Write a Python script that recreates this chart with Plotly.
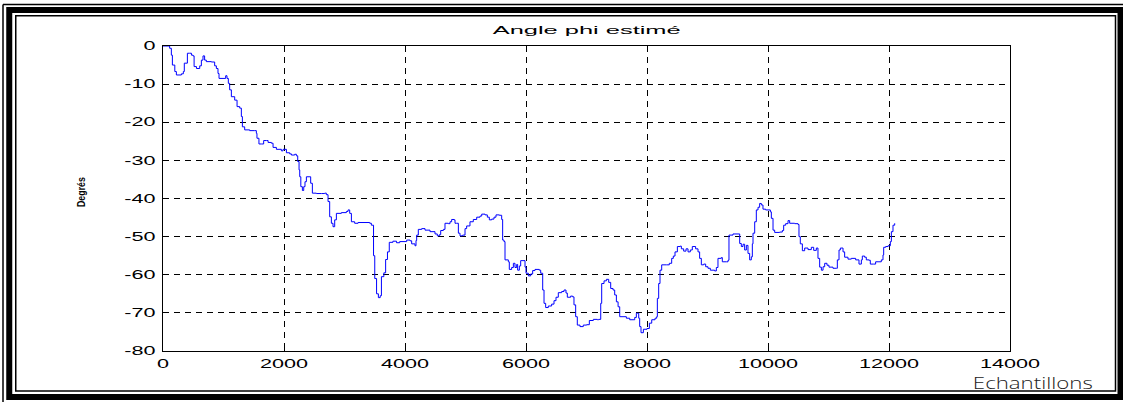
import plotly.graph_objects as go

# Estimated phi angle (degrees) versus sample index
samples = [
    0, 83, 110, 138, 155, 195, 221, 304, 336, 352, 380, 403, 440, 470, 497, 514, 553, 607, 634, 661,
    688, 716, 799, 854, 882, 909, 926, 992, 1036, 1058, 1080, 1102, 1130, 1185, 1224, 1268, 1295, 1312,
    1350, 1433, 1516, 1543, 1553, 1586, 1625, 1664, 1709, 1737, 1792, 1819, 1874, 1957, 1985, 2040,
    2094, 2122, 2149, 2177, 2205, 2227, 2249, 2260, 2278, 2304, 2326, 2347, 2370, 2414, 2441, 2469,
    2535, 2618, 2673, 2700, 2728, 2755, 2783, 2810, 2838, 2866, 2948, 3031, 3058, 3086, 3114, 3168,
    3224, 3306, 3417,
    3444, 3480, 3500, 3530, 3560, 3590, 3610, 3650, 3680, 3710, 3740, 3800, 3860, 3912,
    4028, 4083, 4110, 4165, 4182, 4193, 4220, 4276, 4331, 4413, 4496, 4534, 4567, 4590, 4634, 4661,
    4716, 4744, 4771, 4810, 4827, 4854, 4882, 4909, 4953, 4992, 5019, 5074, 5129, 5185, 5240, 5268,
    5323, 5361, 5394, 5433, 5471, 5504, 5559, 5598, 5614, 5636, 5653, 5708, 5724, 5763, 5791, 5818,
    5846, 5862, 5890, 5912, 5967, 5984, 6000, 6039, 6077, 6110, 6149, 6220, 6243, 6276, 6298, 6325,
    6369, 6424, 6463, 6496, 6534, 6590, 6628, 6661, 6683, 6738, 6771, 6793, 6821, 6848, 6892, 6947,
    7003, 7047, 7113, 7179, 7201, 7235, 7251, 7290, 7329, 7367, 7400, 7439, 7466, 7494, 7522, 7549,
    7604, 7659, 7714, 7769, 7797, 7824, 7846, 7863, 7879, 7901, 7940, 8000, 8039, 8078, 8133, 8160,
    8171, 8193, 8215, 8243, 8325, 8369, 8408, 8435, 8463, 8502, 8546, 8568, 8606, 8645, 8678, 8716,
    8749, 8804, 8843, 8870, 8898, 8937, 8970, 9008, 9047, 9118, 9146, 9173, 9228, 9245, 9311, 9339,
    9355, 9421, 9504, 9532, 9559, 9587, 9614, 9642, 9669, 9697, 9724, 9741, 9752, 9780, 9807, 9835,
    9862, 9890, 9917, 9961, 10017, 10039, 10055, 10083, 10110, 10193, 10237, 10259, 10292, 10331,
    10358, 10441, 10496, 10512, 10534, 10568, 10606, 10661, 10716, 10755, 10799, 10826, 10854, 10882,
    10910, 10937, 10975, 11008, 11074, 11130, 11146, 11174, 11196, 11240, 11267, 11322, 11377, 11449,
    11504, 11543, 11559, 11597, 11625, 11669, 11691, 11746, 11779, 11834, 11873, 11901, 11912, 11945,
    11984, 12022, 12039, 12066, 12094,
]
phi_deg = [
    0, 0, -0.6, -2.4, -5, -6.7, -7.6, -7.3, -6.7, -4.5, -4.5, -1.9, -1.9, -2.4, -2.6, -5.4, -5.9, -5.2, -3.7, -2.6,
    -3.7, -4.1, -4.2, -5.2, -5.9, -7.2, -8.5, -8.5, -7.8, -8.5, -9.8, -11.5, -13.3, -14.2, -15.9, -16.3, -18.5, -21.2,
    -22, -22.2, -22.2, -22.9, -24.2, -25.7, -25.7, -24.8, -24.8, -25.3, -25.5, -26.6, -27.1, -27.5, -27.1, -28,
    -28.3, -28.6, -28.6, -28.4, -28.8, -30.3, -32.5, -34.3, -36.9, -37.9, -36.9, -35.6, -34.3, -34.3, -36, -38.6,
    -38.7, -38.7, -38.6, -39, -40.8, -44.8, -46.5, -47.4, -45.6, -43.9, -43.7, -43.4, -43, -43.9, -46.1, -46.5,
    -46.3, -46.3, -46.5,
    -47, -55, -61, -65, -66, -65.5, -60.5, -59.5, -56, -54, -51.5, -51.2, -51.6, -51.3,
    -50.9, -51.1, -51.9, -52.4, -51, -49.6, -48.1, -47.9, -48.3, -48.7, -49.3, -49.8, -49.5, -48.4, -48.1, -46.5,
    -46.6, -46.1, -45.5, -45.6, -46.5, -46.5, -49.1, -49.8, -49.6, -47.9, -47.2, -46.1, -45.5, -44.9, -44.6, -44.1,
    -44.3, -44.9, -45.6, -45.4, -44.9, -44.3, -44.4, -45.5, -50.9, -51.3, -56.1, -56.6, -58.6, -58.1, -57, -58.1,
    -57.3, -58.8, -57.7, -56.3, -56.3, -58, -59.6, -60.3, -59.8, -58.9, -58.6, -58.8, -59.6, -64, -67.5, -68.6,
    -68.2, -67.7, -66.8, -65.9, -64.7, -64.4, -64, -64.8, -65.9, -65.6, -65.8, -67.9, -71, -73.2, -73.6, -73.2,
    -73.1, -72, -71.7, -71.8, -71.7, -67.5, -62.3, -61.6, -61.2, -62, -63.6, -64, -65.3, -67.1, -68.4, -71,
    -71, -71.4, -71.8, -71.8, -71.2, -70.1, -70.1, -71.4, -73.6, -75.2, -74.3, -74.1, -72.7, -71.8, -71.4, -71,
    -66.2, -62.3, -58.8, -57.4, -57.4, -57, -55.7, -55.1, -54, -52.6, -52.5, -53.2, -53.8, -53.2, -54, -53.5,
    -52.6, -53.2, -54, -55.7, -57.4, -57.2, -57.9, -58.3, -58.8, -59, -58.1, -55.7, -55.5, -56.6, -56.6, -56.2,
    -49.6, -49.3, -49.3, -51.8, -52.6, -52, -53.5, -52.3, -54.4, -56.1, -55.3, -51.9, -49.1, -46.1, -43, -42.3,
    -41.3, -41.7, -42.8, -43, -43, -43.5, -45.2, -48.3, -48.9, -48.8, -48.4, -47, -46.6, -45.8,
    -46.5, -46.6, -46.8, -50, -51.9, -53.7, -53, -53.4, -52.8, -53.6, -53, -55.7, -58, -58.8,
    -57.9, -57, -57.5, -58, -58.3, -58.3, -56.1, -53.5, -53, -54, -55.4, -55.9, -55.7, -56.1,
    -57.2, -56.1, -55.1, -55.4, -56.1, -56.2, -57.2, -57.2, -56.6, -56.6, -56.1, -54.8, -52.8, -52.6,
    -52.4, -51.3, -48.7, -47, -46.5,
]

x_ticks = [0, 2000, 4000, 6000, 8000, 10000, 12000, 14000]
y_ticks = [0, -10, -20, -30, -40, -50, -60, -70, -80]

title_text = "Angle phi estimé"
x_title = "Echantillons"
y_title = "Degrés"

W, H = 1123, 402
L, R, T, B = 163, 113, 46, 51
PW, PH = W - L - R, H - T - B


def px_x(px):
    return (px - L) / PW


def px_y(py):
    return (H - B - py) / PH


fig = go.Figure()
fig.add_trace(go.Scatter(
    x=samples, y=phi_deg, mode="lines",
    line=dict(color="#0000ff", width=1, shape="hv"),
    hoverinfo="skip", showlegend=False,
))

axis_common = dict(
    showline=True, linecolor="black", linewidth=1, mirror=True,
    showgrid=True, gridcolor="black", gridwidth=1, griddash="6px,5px",
    ticks="inside", ticklen=5, tickcolor="black",
    zeroline=False,
    tickfont=dict(family="Liberation Sans", size=12, color="black"),
)

fig.update_xaxes(range=[0, 14000], tickvals=x_ticks, ticktext=[str(v) for v in x_ticks],
                 ticklabelstandoff=2, **axis_common)
fig.update_yaxes(range=[-80, 0], tickvals=y_ticks, ticktext=[str(v) for v in y_ticks],
                 ticklabelstandoff=4, **axis_common)

fig.add_annotation(x=px_x(586), y=px_y(30.5), xref="paper", yref="paper",
                   text=title_text, showarrow=False, xanchor="center", yanchor="middle",
                   font=dict(family="Liberation Sans", size=11, color="black"))
fig.add_annotation(x=px_x(1033), y=px_y(382), xref="paper", yref="paper",
                   text=x_title, showarrow=False, xanchor="center", yanchor="middle",
                   font=dict(family="Open Sans", size=17, color="#222", weight=300))
fig.add_annotation(x=px_x(81), y=px_y(192), xref="paper", yref="paper",
                   text=y_title, showarrow=False, textangle=-90, xanchor="center", yanchor="middle",
                   font=dict(family="Liberation Sans", size=10, color="black", weight="bold"))

# Page frame: thin outer line, thick band, thin inner line
frame = [
    dict(x0=px_x(3), y0=px_y(4.5), x1=px_x(3), y1=px_y(410), width=1.5),
    dict(x0=px_x(3), y0=px_y(4.5), x1=px_x(1130), y1=px_y(4.5), width=1.5),
]
for f in frame:
    fig.add_shape(type="line", xref="paper", yref="paper",
                  x0=f["x0"], y0=f["y0"], x1=f["x1"], y1=f["y1"],
                  line=dict(color="black", width=f["width"]))
fig.add_shape(type="rect", xref="paper", yref="paper",
              x0=px_x(9.25), y0=px_y(397), x1=px_x(1120.5), y1=px_y(10),
              line=dict(color="black", width=6))
fig.add_shape(type="rect", xref="paper", yref="paper",
              x0=px_x(15.75), y0=px_y(391), x1=px_x(1115.5), y1=px_y(15.75),
              line=dict(color="black", width=1.5))

fig.update_layout(
    width=W, height=H, autosize=False,
    margin=dict(l=L, r=R, t=T, b=B, pad=0),
    paper_bgcolor="white", plot_bgcolor="white",
)

# Widen the labels horizontally (stretched text style)
stretch_js = """
(function(){
  function stretch(el, target){
    el.setAttribute('textLength', target);
    el.setAttribute('lengthAdjust', 'spacingAndGlyphs');
  }
  document.querySelectorAll('.xtick text, .ytick text').forEach(function(t){
    var w = t.getComputedTextLength();
    if (w > 0) stretch(t, w * 1.8);
  });
  var targets = {'Angle phi estimé': 188, 'Echantillons': 120, 'Degrés': 30};
  document.querySelectorAll('.annotation-text').forEach(function(t){
    var s = t.textContent;
    if (targets[s]) stretch(t, targets[s]);
  });
})();
"""

fig.write_html("out.html", post_script=stretch_js)
